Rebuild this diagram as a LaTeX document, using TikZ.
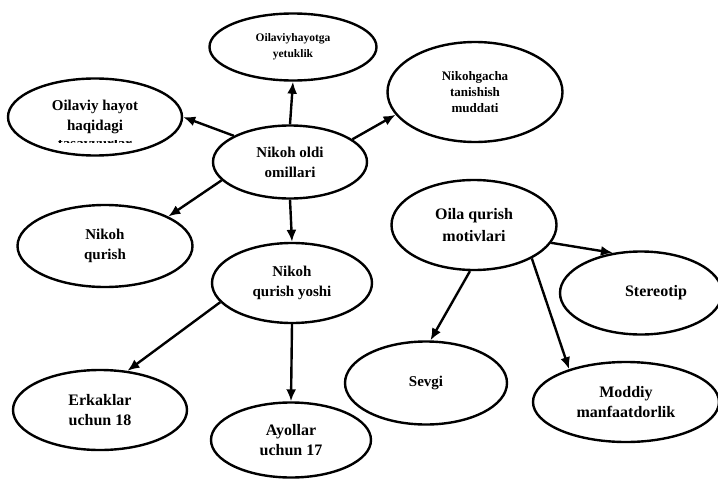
\documentclass[tikz,border=0pt]{standalone}
\usepackage{fontspec}
\setmainfont{Liberation Serif}
\usetikzlibrary{shapes.geometric,arrows.meta}

\tikzset{
  oval/.style={draw,ellipse,line width=2.4pt,inner sep=0pt,align=center,
    font=\bfseries\fontsize{15}{20}\selectfont},
  arr/.style={line width=2.4pt,-{Latex[length=12pt,width=10pt]}},
}

\begin{document}
\begin{tikzpicture}[x=1pt,y=-1pt]
        \useasboundingbox (0,0) rectangle (718,479);

        % nikoh oldi omillari
        \node[oval,minimum width=154pt,minimum height=73pt] (omil) at (290,162) {Nikoh oldi\\omillari};
        \node[oval,minimum width=167pt,minimum height=67pt,font=\bfseries\fontsize{11.5}{16}\selectfont] (yetuk) at (293,47) {Oilaviyhayotga\\yetuklik};
        \node[oval,minimum width=174pt,minimum height=77pt] (tasav) at (95,117) {Oilaviy hayot\\haqidagi};
        \begin{scope}
            \clip (40,140) rectangle (150,142.6);
            \node[font=\bfseries\fontsize{15}{20}\selectfont,anchor=base] (tasavT) at (95,148.5) {tasavvurlar};
        \end{scope}
        \node[oval,minimum width=175pt,minimum height=100pt,font=\bfseries\fontsize{13}{16}\selectfont] (nikgacha) at (475,92) {Nikohgacha\\tanishish\\muddati};
        \node[oval,minimum width=175pt,minimum height=82pt] (qurish) at (105,246) {Nikoh\\qurish};
        \node[oval,minimum width=160pt,minimum height=80pt] (yoshi) at (292,283) {Nikoh\\qurish yoshi};
        \node[oval,minimum width=174pt,minimum height=80pt,font=\bfseries\fontsize{16}{20}\selectfont] (erkak) at (100,410) {Erkaklar\\uchun 18};
        \node[oval,minimum width=160pt,minimum height=75pt,font=\bfseries\fontsize{16}{20}\selectfont] (ayol) at (291,440) {Ayollar\\uchun 17};

        % oila qurish motivlari
        \node[oval,minimum width=165pt,minimum height=90pt,font=\bfseries\fontsize{16}{22}\selectfont] (motiv) at (474,225) {Oila qurish\\motivlari};
        \node[oval,minimum width=162pt,minimum height=83pt,font=\bfseries\fontsize{16}{20}\selectfont] (stereo) at (641,293) {\hspace*{30pt}Stereotip};
        \node[oval,minimum width=162pt,minimum height=83pt] (sevgi) at (426,383) {Sevgi};
        \node[oval,minimum width=186pt,minimum height=80pt,font=\bfseries\fontsize{16}{20}\selectfont] (moddiy) at (626,402) {Moddiy\\manfaatdorlik};

        \draw[arr] (omil.north) -- (yetuk.south);
        \draw[arr] (omil.155) -- (tasav.east);
        \draw[arr] (omil.20) -- (nikgacha.196);
        \draw[arr] (omil.195) -- (qurish.25);
        \draw[arr] (omil.south) -- (yoshi.north);
        \draw[arr] (yoshi.195) -- (erkak.55);
        \draw[arr] (yoshi.south) -- (ayol.north);
        \draw[arr] (motiv.347) -- (stereo.125);
        \draw[arr] (motiv.265) -- (sevgi.84);
        \draw[arr] (motiv.330) -- (moddiy.150);
\end{tikzpicture}
\end{document}
